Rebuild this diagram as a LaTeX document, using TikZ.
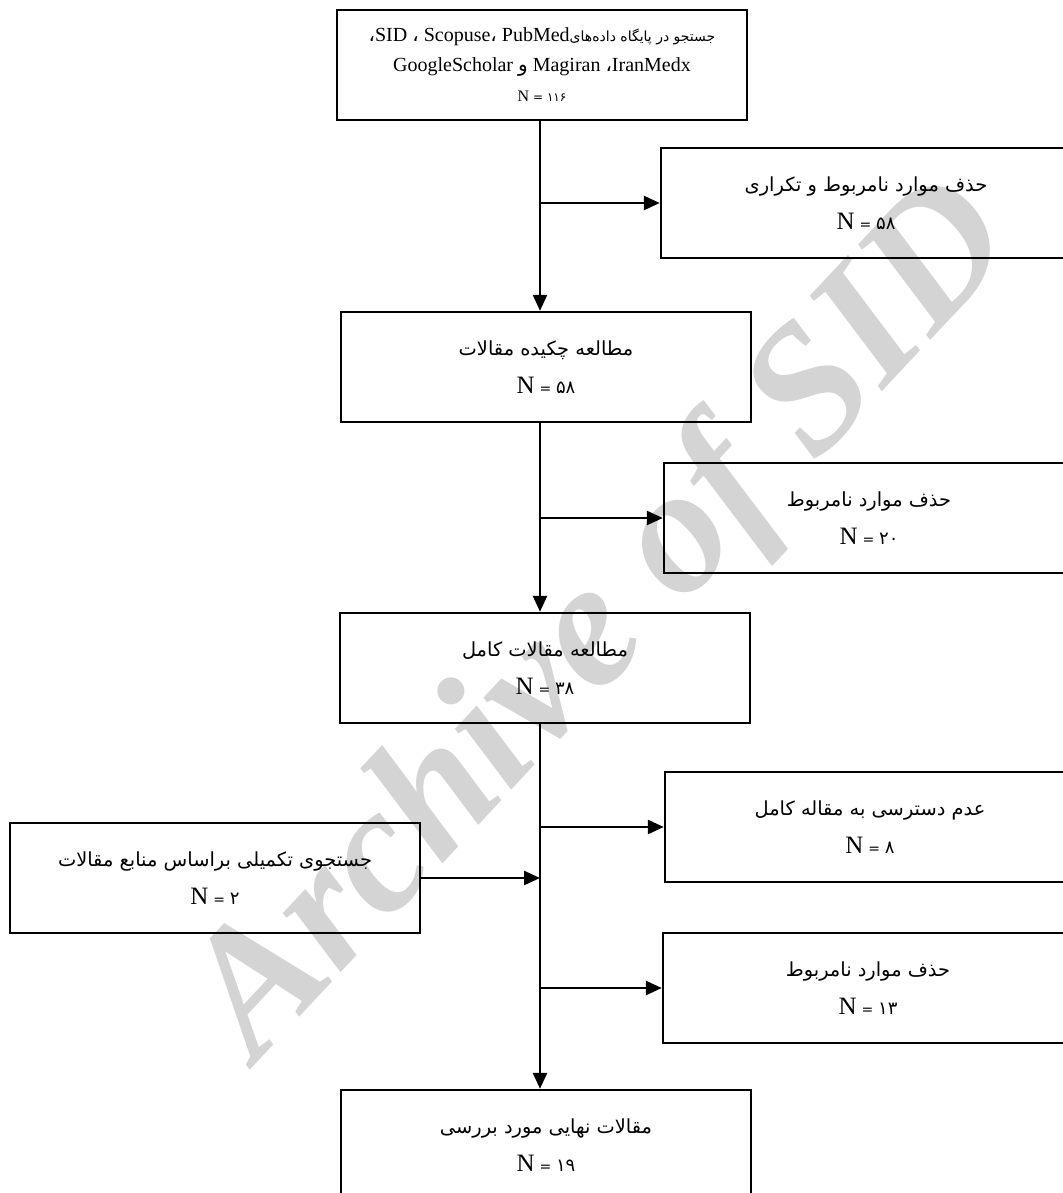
\documentclass[tikz,border=0pt]{standalone}
\usepackage{fontspec}
\setmainfont{Liberation Serif}
\newfontfamily\fafont[Script=Arabic]{DejaVu Sans}
\TeXXeTstate=1
\usetikzlibrary{arrows.meta}

\newcommand{\fa}[1]{{\fafont\beginR #1\endR}}
\newcommand{\nval}[1]{{\fontsize{12.5}{14}\selectfont N} {\fafont\fontsize{7}{8}\selectfont =} {\fafont\fontsize{9}{10}\selectfont #1}}

\tikzset{
	box/.style={draw, line width=1.2pt, minimum width=205pt, minimum height=55pt,
		inner sep=0pt, align=center, font=\fontsize{9.7}{19}\selectfont},
	arr/.style={line width=1.3pt, -{Triangle[length=8pt,width=7pt]}},
	wmark/.style={text=black!17, font=\fontsize{90}{90}\selectfont\bfseries\itshape, rotate=47}
}

\begin{document}
\begin{tikzpicture}[x=0.5pt,y=-0.5pt]
	\useasboundingbox (0,0) rectangle (1063,1193);
	\clip (0,0) rectangle (1063,1193);
	% watermark
	\node[wmark] (mark) at (606,624) {Archive of SID};
	% main column
	\node[box, font=\fontsize{10}{15}\selectfont] (src) at (542,65)
		{{\fafont ،}SID {\fafont ،} Scopuse{\fafont ،} PubMed{\fontsize{7}{15}\selectfont\fa{جستجو در پایگاه داده‌های}}\\
		GoogleScholar {\fafont و} Magiran {\fafont ،}IranMedx\\
		{\fontsize{8}{15}\selectfont N {\fafont\fontsize{6}{15}\selectfont = ۱۱۶}}};
	\node[box] (abs) at (546,367) {\fa{مطالعه چکیده مقالات}\\ \nval{۵۸}};
	\node[box] (full) at (545,668) {\fa{مطالعه مقالات کامل}\\ \nval{۳۸}};
	\node[box] (final) at (546,1145) {\fa{مقالات نهایی مورد بررسی}\\ \nval{۱۹}};
	% removed (right side)
	\node[box] (dup) at (866,203) {\fa{حذف موارد نامربوط و تکراری}\\ \nval{۵۸}};
	\node[box] (irrA) at (869,518) {\fa{حذف موارد نامربوط}\\ \nval{۲۰}};
	\node[box] (noacc) at (870,827) {\fa{عدم دسترسی به مقاله کامل}\\ \nval{۸}};
	\node[box] (irrB) at (868,988) {\fa{حذف موارد نامربوط}\\ \nval{۱۳}};
	% added (left side)
	\node[box] (extra) at (215,878) {\fa{جستجوی تکمیلی براساس منابع مقالات}\\ \nval{۲}};
	% arrows
	\coordinate (trunk) at (540,0);
	\draw[arr] (src.south -| trunk) -- (abs.north -| trunk);
	\draw[arr] (abs.south -| trunk) -- (full.north -| trunk);
	\draw[arr] (full.south -| trunk) -- (final.north -| trunk);
	\draw[arr] (dup.west -| trunk) -- (dup.west);
	\draw[arr] (irrA.west -| trunk) -- (irrA.west);
	\draw[arr] (noacc.west -| trunk) -- (noacc.west);
	\draw[arr] (irrB.west -| trunk) -- (irrB.west);
	\draw[arr] (extra.east) -- (extra.east -| trunk);
\end{tikzpicture}
\end{document}
